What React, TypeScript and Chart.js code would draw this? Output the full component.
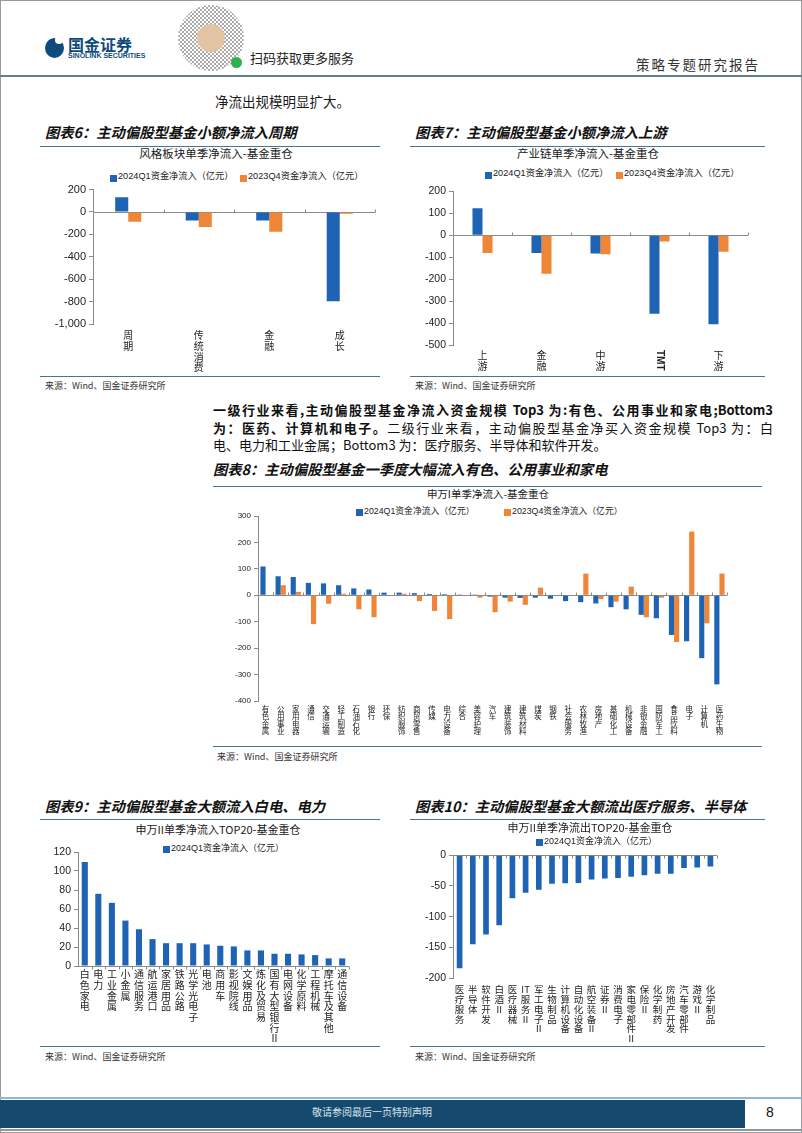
import React, { useEffect, useRef } from 'react';
import { Chart, registerables } from 'chart.js';
Chart.register(...registerables);

const BLUE = '#1F63B5';
const ORANGE = '#EE8537';
const CJK = "'Noto Sans CJK SC', sans-serif";
const NUM = "'Liberation Sans', Arial, 'Noto Sans CJK SC', sans-serif";

// 图表6
const styleCategories = ['周期', '传统消费', '金融', '成长'];
const styleQ1 = [132, -77, -77, -797];
const styleQ4 = [-88, -135, -176, -15];

// 图表7
const chainCategories = ['上游', '金融', '中游', 'TMT', '下游'];
const chainQ1 = [123, -81, -83, -358, -405];
const chainQ4 = [-81, -176, -87, -29, -75];

// 图表8
const sw1Categories = ['有色金属', '公用事业', '家用电器', '通信', '交通运输', '轻工制造', '石油石化', '银行', '环保', '纺织服饰', '商贸零售', '传媒', '电力设备', '综合', '美容护理', '汽车', '建筑装饰', '建筑材料', '煤炭', '钢铁', '社会服务', '农林牧渔', '房地产', '基础化工', '机械设备', '非银金融', '国防军工', '食品饮料', '电子', '计算机', '医药生物'];
const sw1Q1 = [109, 72, 69, 47, 45, 38, 26, 22, 10, 10, 8, 5, 4, 3, 3, -5, -9, -10, -9, -13, -22, -26, -31, -45, -53, -74, -87, -150, -174, -238, -337];
const sw1Q4 = [0, 38, 13, -109, -32, 6, -53, -83, -2, 6, -22, -59, -90, -1, -9, -64, -24, -36, 29, 0, -2, 82, -14, -24, 33, -83, -9, -177, 241, -106, 82];

// 图表9
const inCategories = ['白色家电', '电力', '工业金属', '小金属', '通信服务', '航运港口', '家居用品', '铁路公路', '光学光电子', '电池', '商用车', '影视院线', '文娱用品', '炼化及贸易', '国有大型银行Ⅱ', '电网设备', '化学原料', '工程机械', '摩托车及其他', '通信设备'];
const inQ1 = [109.5, 76, 66.5, 47.8, 38.7, 28.3, 24, 24, 24, 22.7, 21.3, 20.6, 16.4, 16.4, 12.9, 12.9, 12.2, 11.5, 8, 8];

// 图表10
const outCategories = ['医疗服务', '半导体', '软件开发', '白酒Ⅱ', '医疗器械', 'IT服务Ⅱ', '军工电子Ⅱ', '生物制品', '计算机设备', '自动化设备', '航空装备Ⅱ', '证券Ⅱ', '消费电子', '家电零部件Ⅱ', '保险Ⅱ', '化学制药', '房地产开发', '汽车零部件', '游戏Ⅱ', '化学制品'];
const outQ1 = [-184, -145, -129, -114, -70, -61, -56, -46.5, -45.4, -45, -39.5, -38, -37, -35, -32.4, -30, -30, -20.5, -20, -18.4];

const SERIES_Q1 = '2024Q1资金净流入（亿元）';
const SERIES_Q4 = '2023Q4资金净流入（亿元）';

const isRotated = (s: string) => /^[A-Z]{3,}$/.test(s);

function vert(s: string): string[] | string {
  if (isRotated(s)) return '';
  const out: string[] = [];
  let rest = s;
  const m = s.match(/^[A-Za-z]{2}/);
  if (m) {
    out.push(m[0]);
    rest = s.slice(2);
  }
  for (const ch of Array.from(rest)) out.push(ch);
  return out;
}

const zeroLinePlugin = {
  id: 'zeroLine',
  beforeDatasetsDraw(chart: any, _args: any, opts: any) {
    const { ctx, chartArea, scales } = chart;
    const y = Math.round(scales.y.getPixelForValue(0)) + 0.5;
    const n = chart.data.labels.length;
    const w = (chartArea.right - chartArea.left) / n;
    ctx.save();
    ctx.strokeStyle = '#8a8a8a';
    ctx.lineWidth = 1;
    ctx.beginPath();
    ctx.moveTo(chartArea.left, y);
    ctx.lineTo(chartArea.right, y);
    const d = opts && opts.dir === 'down' ? 3 : -3;
    for (let i = 1; i <= n; i++) {
      const x = Math.round(chartArea.left + i * w) + 0.5;
      ctx.moveTo(x, y);
      ctx.lineTo(x, y + d);
    }
    ctx.stroke();
    ctx.restore();
  },
};

const rotLabelPlugin = {
  id: 'rotLabel',
  afterDraw(chart: any, _args: any, opts: any) {
    const { ctx, chartArea, scales } = chart;
    const raw: string[] = (opts && opts.raw) || [];
    raw.forEach((s, i) => {
      if (!isRotated(s)) return;
      const x = scales.x.getPixelForTick(i);
      ctx.save();
      ctx.translate(x, chartArea.bottom + (opts.pad || 5));
      ctx.rotate(Math.PI / 2);
      ctx.fillStyle = '#222';
      ctx.font = `bold ${opts.size || 10}px ${NUM}`;
      ctx.textAlign = 'left';
      ctx.textBaseline = 'middle';
      ctx.fillText(s, 0, 0);
      ctx.restore();
    });
  },
};

type Series = { label: string; data: number[]; color: string };
type BarProps = {
  left: number; top: number; width: number; height: number;
  labels: string[]; series: Series[];
  yMin: number; yMax: number; yStep: number;
  yAxisW: number; xAxisH: number; padTop: number; padRight: number;
  tickSize: number; labelSize: number; labelLH: number; labelPad: number;
  catPct: number; zeroDir: 'up' | 'down';
};

function BarChart(p: BarProps) {
  const ref = useRef<HTMLCanvasElement>(null);
  useEffect(() => {
    const chart = new Chart(ref.current as HTMLCanvasElement, {
      type: 'bar',
      data: {
        labels: p.labels.map(vert),
        datasets: p.series.map((s) => ({
          label: s.label,
          data: s.data,
          backgroundColor: s.color,
          borderWidth: 0,
          barPercentage: 1,
          categoryPercentage: p.catPct,
        })),
      },
      options: {
        responsive: false,
        animation: false,
        devicePixelRatio: 1,
        layout: { padding: { top: p.padTop, right: p.padRight, left: 0, bottom: 0 } },
        plugins: {
          legend: { display: false },
          tooltip: { enabled: false },
          title: { display: false },
          // @ts-ignore
          zeroLine: { dir: p.zeroDir },
          // @ts-ignore
          rotLabel: { raw: p.labels, pad: p.labelPad, size: p.labelSize },
        },
        scales: {
          x: {
            grid: { display: false, drawTicks: false },
            border: { display: false },
            ticks: {
              autoSkip: false, maxRotation: 0, minRotation: 0, padding: p.labelPad,
              color: '#222', font: { family: CJK, size: p.labelSize, lineHeight: p.labelLH },
            },
            afterFit: (s: any) => { s.height = p.xAxisH; },
          },
          y: {
            min: p.yMin, max: p.yMax,
            ticks: { stepSize: p.yStep, color: '#222', padding: 3, font: { family: NUM, size: p.tickSize } },
            grid: { drawOnChartArea: false, drawTicks: true, tickLength: 4, color: '#8a8a8a' },
            border: { display: true, color: '#8a8a8a' },
            afterFit: (s: any) => { s.width = p.yAxisW; },
          },
        },
      } as any,
      plugins: [zeroLinePlugin as any, rotLabelPlugin as any],
    });
    return () => chart.destroy();
  }, []);
  return (
    <canvas
      ref={ref}
      width={p.width}
      height={p.height}
      style={{ position: 'absolute', left: p.left, top: p.top, width: p.width, height: p.height }}
    />
  );
}

const abs = (left: number, top: number, extra: React.CSSProperties = {}): React.CSSProperties => ({
  position: 'absolute', left, top, whiteSpace: 'nowrap', lineHeight: 1, ...extra,
});

function Txt({ x, y, size, children, style }: { x: number; y: number; size: number; children: React.ReactNode; style?: React.CSSProperties }) {
  return <div style={abs(x, y - size / 2 - 1, { fontSize: size, fontFamily: CJK, color: '#1a1a1a', ...style })}>{children}</div>;
}

function CTxt({ cx, y, size, children, style }: { cx: number; y: number; size: number; children: React.ReactNode; style?: React.CSSProperties }) {
  return (
    <div style={abs(cx - 300, y - size / 2 - 1, { width: 600, textAlign: 'center', fontSize: size, fontFamily: CJK, color: '#1a1a1a', ...style })}>
      {children}
    </div>
  );
}

function HLine({ x1, x2, y, color = '#4a7590', h = 1 }: { x1: number; x2: number; y: number; color?: string; h?: number }) {
  return <div style={{ position: 'absolute', left: x1, top: y, width: x2 - x1, height: h, background: color }} />;
}

function LegendItem({ x, y, color, text, size = 9.2 }: { x: number; y: number; color: string; text: string; size?: number }) {
  return (
    <>
      <div style={{ position: 'absolute', left: x, top: y - 3.5, width: 7, height: 7, background: color }} />
      <Txt x={x + 8} y={y} size={size} style={{ fontFamily: NUM, color: '#222' }}>{text}</Txt>
    </>
  );
}

function FigTitle({ x, y, text }: { x: number; y: number; text: string }) {
  return (
    <Txt x={x} y={y} size={14.3} style={{ fontWeight: 700, fontStyle: 'italic', color: '#111' }}>{text}</Txt>
  );
}

function Source({ x, y }: { x: number; y: number }) {
  return <Txt x={x} y={y} size={9} style={{ color: '#333' }}>来源：Wind、国金证券研究所</Txt>;
}

const justLine: React.CSSProperties = { width: 560, textAlign: 'justify', textAlignLast: 'justify' as any, whiteSpace: 'normal', height: 17.5 };

export default function App() {
  return (
    <div style={{ position: 'absolute', left: 0, top: 0, width: 802, height: 1133, background: '#fff', overflow: 'hidden', fontFamily: CJK }}>
      <div style={{ position: 'absolute', left: 0, top: 0, width: 802, height: 1133, border: '1px solid #9a9a9a', boxSizing: 'border-box' }} />

      {/* header */}
      <div style={{ position: 'absolute', left: 45, top: 38, width: 19, height: 20, borderRadius: '50%', background: '#0d4b7e' }} />
      <div style={{ position: 'absolute', left: 55, top: 36, width: 8, height: 8, borderRadius: '50%', background: '#fff' }} />
      <Txt x={68} y={45} size={16} style={{ fontWeight: 700, color: '#0d4b7e' }}>国金证券</Txt>
      <Txt x={68} y={56} size={7} style={{ fontFamily: NUM, fontWeight: 700, color: '#0d4b7e' }}>SINOLINK SECURITIES</Txt>
      <div style={{ position: 'absolute', left: 178, top: 5, width: 66, height: 66, borderRadius: '50%', background: 'repeating-conic-gradient(#444 0 25%, #fff 0 50%) 0 0/4px 4px', opacity: 0.45 }} />
      <div style={{ position: 'absolute', left: 197, top: 24, width: 28, height: 28, borderRadius: '50%', background: '#e2c3a3' }} />
      <div style={{ position: 'absolute', left: 231, top: 57, width: 11, height: 11, borderRadius: '50%', background: '#2cb34f' }} />
      <Txt x={250} y={58} size={13} style={{ color: '#222' }}>扫码获取更多服务</Txt>
      <Txt x={636} y={66} size={13.5} style={{ color: '#333', letterSpacing: 2 }}>策略专题研究报告</Txt>
      <HLine x1={0} x2={802} y={75} h={2} color="#607f90" />

      <Txt x={215} y={103} size={13.5}>净流出规模明显扩大。</Txt>

      {/* 图表6 */}
      <FigTitle x={45} y={133} text="图表6：主动偏股型基金小额净流入周期" />
      <HLine x1={40} x2={380} y={146} />
      <CTxt cx={216} y={155} size={11.5}>风格板块单季净流入-基金重仓</CTxt>
      <LegendItem x={110} y={178} color={BLUE} text={SERIES_Q1} />
      <LegendItem x={240} y={178} color={ORANGE} text={SERIES_Q4} />
      <BarChart
        left={40} top={180} width={345} height={195}
        labels={styleCategories}
        series={[{ label: SERIES_Q1, data: styleQ1, color: BLUE }, { label: SERIES_Q4, data: styleQ4, color: ORANGE }]}
        yMin={-1000} yMax={200} yStep={200}
        yAxisW={53} xAxisH={51} padTop={8} padRight={10}
        tickSize={11} labelSize={10} labelLH={1.07} labelPad={6} catPct={0.37} zeroDir="up"
      />
      <HLine x1={40} x2={380} y={376} />
      <Source x={45} y={386} />

      {/* 图表7 */}
      <FigTitle x={415} y={133} text="图表7：主动偏股型基金小额净流入上游" />
      <HLine x1={410} x2={765} y={146} />
      <CTxt cx={588} y={155} size={11.5}>产业链单季净流入-基金重仓</CTxt>
      <LegendItem x={485} y={175} color={BLUE} text={SERIES_Q1} />
      <LegendItem x={616} y={175} color={ORANGE} text={SERIES_Q4} />
      <BarChart
        left={410} top={182} width={355} height={193}
        labels={chainCategories}
        series={[{ label: SERIES_Q1, data: chainQ1, color: BLUE }, { label: SERIES_Q4, data: chainQ4, color: ORANGE }]}
        yMin={-500} yMax={200} yStep={100}
        yAxisW={43} xAxisH={30} padTop={8} padRight={17}
        tickSize={10.5} labelSize={10} labelLH={1.1} labelPad={5} catPct={0.34} zeroDir="up"
      />
      <HLine x1={410} x2={765} y={376} />
      <Source x={415} y={386} />

      {/* paragraph */}
      <div style={abs(213, 401, { fontSize: 13, lineHeight: '17.5px', fontFamily: CJK, color: '#111' })}>
        <div style={{ ...justLine, fontWeight: 700 }}>一级行业来看,主动偏股型基金净流入资金规模 Top3 为:有色、公用事业和家电;Bottom3</div>
        <div style={justLine}><span style={{ fontWeight: 700 }}>为：医药、计算机和电子。</span>二级行业来看，主动偏股型基金净买入资金规模 Top3 为：白</div>
        <div>电、电力和工业金属；Bottom3 为：医疗服务、半导体和软件开发。</div>
      </div>

      {/* 图表8 */}
      <FigTitle x={213} y={470} text="图表8：主动偏股型基金一季度大幅流入有色、公用事业和家电" />
      <HLine x1={213} x2={762} y={486} />
      <CTxt cx={488} y={495} size={10.5}>申万I单季净流入-基金重仓</CTxt>
      <LegendItem x={356} y={512} color={BLUE} text={SERIES_Q1} size={8.8} />
      <LegendItem x={504} y={512} color={ORANGE} text={SERIES_Q4} size={8.8} />
      <BarChart
        left={213} top={508} width={549} height={238}
        labels={sw1Categories}
        series={[{ label: SERIES_Q1, data: sw1Q1, color: BLUE }, { label: SERIES_Q4, data: sw1Q4, color: ORANGE }]}
        yMin={-400} yMax={300} yStep={100}
        yAxisW={45} xAxisH={45} padTop={8} padRight={35}
        tickSize={8} labelSize={7.5} labelLH={1.0} labelPad={4} catPct={0.68} zeroDir="up"
      />
      <HLine x1={213} x2={762} y={746} />
      <Source x={217} y={757} />

      {/* 图表9 */}
      <FigTitle x={45} y={807} text="图表9：主动偏股型基金大额流入白电、电力" />
      <HLine x1={40} x2={380} y={819} />
      <CTxt cx={218} y={830} size={11}>申万II单季净流入TOP20-基金重仓</CTxt>
      <LegendItem x={163} y={849} color={BLUE} text={SERIES_Q1} size={9} />
      <BarChart
        left={40} top={842} width={340} height={204}
        labels={inCategories}
        series={[{ label: SERIES_Q1, data: inQ1, color: BLUE }]}
        yMin={0} yMax={120} yStep={20}
        yAxisW={38} xAxisH={80} padTop={10} padRight={31}
        tickSize={10.5} labelSize={10} labelLH={1.07} labelPad={3} catPct={0.45} zeroDir="down"
      />
      <HLine x1={40} x2={380} y={1046} />
      <Source x={45} y={1057} />

      {/* 图表10 */}
      <FigTitle x={415} y={807} text="图表10：主动偏股型基金大额流出医疗服务、半导体" />
      <HLine x1={410} x2={765} y={819} />
      <CTxt cx={590} y={828} size={11}>申万II单季净流出TOP20-基金重仓</CTxt>
      <LegendItem x={536} y={842} color={BLUE} text={SERIES_Q1} size={9} />
      <BarChart
        left={410} top={846} width={355} height={200}
        labels={outCategories}
        series={[{ label: SERIES_Q1, data: outQ1, color: BLUE }]}
        yMin={-200} yMax={0} yStep={50}
        yAxisW={43} xAxisH={68} padTop={9} padRight={48}
        tickSize={10.5} labelSize={9.5} labelLH={1.05} labelPad={6} catPct={0.43} zeroDir="down"
      />
      <HLine x1={410} x2={765} y={1046} />
      <Source x={415} y={1057} />

      {/* footer */}
      <HLine x1={0} x2={802} y={1097} h={2} color="#8fb7cf" />
      <div style={{ position: 'absolute', left: 0, top: 1100, width: 745, height: 28, background: '#154a6e' }} />
      <CTxt cx={372} y={1113} size={10} style={{ color: '#d5e3ec' }}>敬请参阅最后一页特别声明</CTxt>
      <Txt x={766} y={1113} size={14} style={{ fontFamily: NUM, color: '#111' }}>8</Txt>
      <HLine x1={0} x2={802} y={1129} h={2} color="#8a9aa5" />
    </div>
  );
}
